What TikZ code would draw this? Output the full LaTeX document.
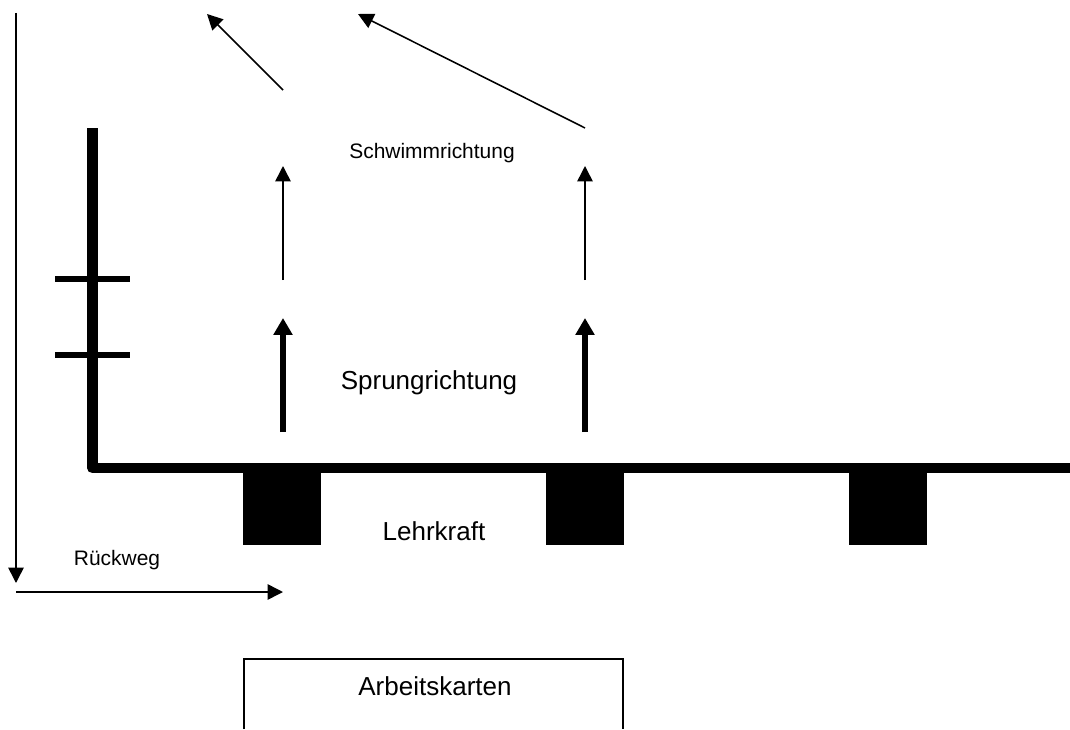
\documentclass[tikz,border=0pt]{standalone}
\usepackage{fontspec}
\setmainfont{Liberation Sans}
\usetikzlibrary{arrows.meta}

\begin{document}
\begin{tikzpicture}[x=0.025cm,y=-0.025cm]
    \tikzstyle{wall}=[line width=7.8pt, line join=round]
    \tikzstyle{tick}=[line width=3.8pt]
    \tikzstyle{block}=[fill=black]
    \tikzstyle{swim}=[-{Triangle[length=11pt,width=11pt]}, line width=1.1pt]
    \tikzstyle{jump}=[-{Triangle[length=12pt,width=13pt]}, line width=3.6pt]
    \tikzstyle{bigtext}=[font=\fontsize{18.5}{22}\selectfont, anchor=base, inner sep=0pt]
    \tikzstyle{smalltext}=[font=\fontsize{14.9}{18}\selectfont, anchor=base, inner sep=0pt]

    \useasboundingbox (0,0) rectangle (1070,729);

    % beckenrand mit leiter
    \draw[wall] (92.5,128) |- (1070,468);
    \draw[tick] (55,279) -- (130,279);
    \draw[tick] (55,355) -- (130,355);
    \foreach \x in {243,546,849}
      \fill[block] (\x,468) rectangle +(78,77);

    % bahnen
    \coordinate (ja0) at (283,432);
    \coordinate (ja1) at (283,318);
    \coordinate (sa0) at (283,280);
    \coordinate (sa1) at (283,166);
    \coordinate (da0) at (283,90);
    \coordinate (da1) at (207,14);
    \coordinate (jb0) at (585,432);
    \coordinate (jb1) at (585,318);
    \coordinate (sb0) at (585,280);
    \coordinate (sb1) at (585,166);
    \coordinate (db0) at (585,128);
    \coordinate (db1) at (358,14);
    \coordinate (r0) at (16,13);
    \coordinate (r1) at (16,583);
    \coordinate (r2) at (16,592);
    \coordinate (r3) at (283,592);
    \path
     (ja0) edge[jump] (ja1)
     (jb0) edge[jump] (jb1)
     (sa0) edge[swim] (sa1)
     (sb0) edge[swim] (sb1)
     (da0) edge[swim] (da1)
     (db0) edge[swim] (db1)
     (r0) edge[swim] (r1)
     (r2) edge[swim] (r3)
     ;

    % texte
    \node[smalltext] (schwimm) at (432,158) {Schwimmrichtung};
    \node[bigtext] (sprung) at (429,389) {Sprungrichtung};
    \node[bigtext] (lehrer) at (434,540) {Lehrkraft};
    \node[smalltext] (rueck) at (117,565) {Rückweg};

    % arbeitskarten
    \draw[line width=1.4pt] (244,729) |- (623,659) -- (623,729);
    \node[bigtext] (karten) at (435,695) {Arbeitskarten};
\end{tikzpicture}
\end{document}
